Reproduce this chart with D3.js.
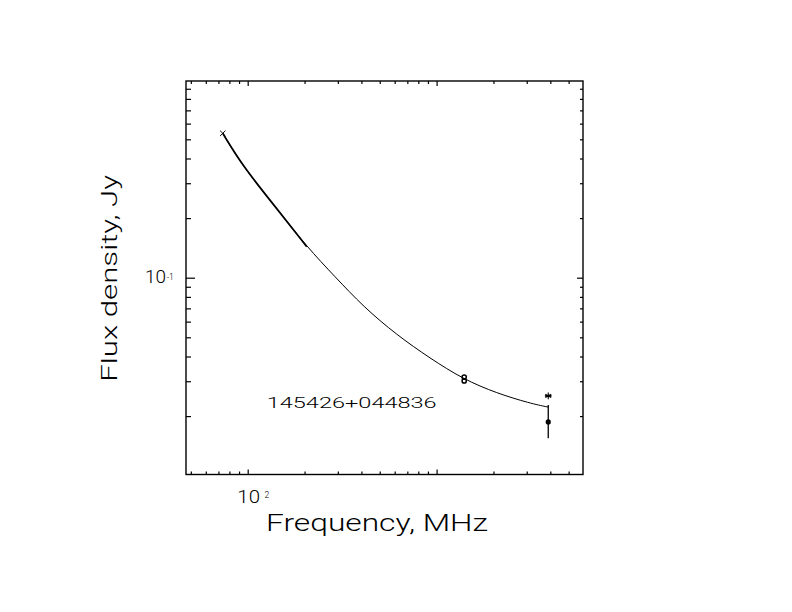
<!DOCTYPE html>
<html>
<head>
<meta charset="utf-8">
<script src="https://cdn.jsdelivr.net/npm/d3@7"></script>
<style>
  html, body { margin: 0; padding: 0; background: #fff; }
  svg { display: block; }
  text { font-family: Roboto, "DejaVu Sans", sans-serif; font-weight: 300; fill: #000; }
</style>
</head>
<body>
<svg id="chart" width="792" height="612"></svg>
<script>
// ---- data ----
const sourceName = "145426+044836";
const xTitle = "Frequency, MHz";
const yTitle = "Flux density, Jy";

const xDomain = [47.14, 5957];
const yDomain = [0.010141, 0.985];

const xMajorTicks = [100, 1000];
const xMinorTicks = [50, 60, 70, 80, 90, 200, 300, 400, 500, 600, 700, 800, 900, 2000, 3000, 4000, 5000];
const yMajorTicks = [0.1];
const yMinorTicks = [0.02, 0.03, 0.04, 0.05, 0.06, 0.07, 0.08, 0.09, 0.2, 0.3, 0.4, 0.5, 0.6, 0.7, 0.8, 0.9];
const xTickLabelBase = "10", xTickLabelExp = "2";
const yTickLabelBase = "10", yTickLabelExp = "-1";

// fitted spectrum curve
const curveFreq = [73.8, 94.8, 142.4, 205.3, 289.9, 409.3, 614.9, 922.9, 1385, 2081, 3123, 3902];
const curveFlux = [0.536, 0.362, 0.224, 0.1434, 0.1012, 0.0714, 0.0514, 0.0392, 0.0307, 0.0261, 0.0232, 0.0222];
const curveThickUpTo = 205.3;

// measured points
const crossFreq = [73.8];
const crossFlux = [0.536];
const circleFreq = [1400, 1400];
const circleFlux = [0.0315, 0.0301];
const starFreq = [3900];
const starFlux = [0.0253];
const dotFreq = [3900];
const dotFlux = [0.0187];
const dotErrLo = [0.01545];
const dotErrHi = [0.02275];

// ---- drawing ----
const svg = d3.select("#chart");
const pLeft = 186, pRight = 583, pTop = 81, pBottom = 474.5;

const x = d3.scaleLog().domain(xDomain).range([pLeft, pRight]);
const y = d3.scaleLog().domain(yDomain).range([pBottom, pTop]);

const g = svg.append("g");

// frame
g.append("rect")
  .attr("x", pLeft).attr("y", pTop)
  .attr("width", pRight - pLeft).attr("height", pBottom - pTop)
  .attr("fill", "none").attr("stroke", "#000").attr("stroke-width", 1.4);

function drawAxis(axisFn, scale, values, size, transform) {
  const a = axisFn(scale).tickValues(values).tickSizeInner(size).tickSizeOuter(0).tickFormat("");
  const sel = g.append("g").attr("transform", transform).call(a);
  sel.select(".domain").remove();
  sel.selectAll(".tick line").attr("stroke", "#000").attr("stroke-width", 1.2);
}
// bottom / top (ticks point inward)
drawAxis(d3.axisBottom, x, xMinorTicks, -3, `translate(0,${pBottom})`);
drawAxis(d3.axisBottom, x, xMajorTicks, -5, `translate(0,${pBottom})`);
drawAxis(d3.axisTop, x, xMinorTicks, -3, `translate(0,${pTop})`);
drawAxis(d3.axisTop, x, xMajorTicks, -5, `translate(0,${pTop})`);
// left / right
drawAxis(d3.axisLeft, y, yMinorTicks, -5, `translate(${pLeft},0)`);
drawAxis(d3.axisLeft, y, yMajorTicks, -9, `translate(${pLeft},0)`);
drawAxis(d3.axisRight, y, yMinorTicks, -3, `translate(${pRight},0)`);
drawAxis(d3.axisRight, y, yMajorTicks, -6, `translate(${pRight},0)`);

// tick labels
xMajorTicks.slice(0, 1).forEach(v => {
  g.append("text").attr("x", x(v) + 1).attr("y", pBottom + 28.8)
    .attr("text-anchor", "middle").attr("font-size", 17.5).attr("font-weight", 400)
    .attr("textLength", 22.7).attr("lengthAdjust", "spacingAndGlyphs")
    .text(xTickLabelBase);
  g.append("text").attr("x", x(v) + 16.8).attr("y", pBottom + 23.3)
    .attr("font-size", 8.5).attr("font-weight", 400).text(xTickLabelExp);
});
yMajorTicks.forEach(v => {
  g.append("text").attr("x", pLeft - 20).attr("y", y(v) + 5)
    .attr("text-anchor", "end").attr("font-size", 17.5).attr("font-weight", 400)
    .attr("textLength", 21).attr("lengthAdjust", "spacingAndGlyphs")
    .text(yTickLabelBase);
  g.append("text").attr("x", pLeft - 19.3).attr("y", y(v) + 1.8)
    .attr("font-size", 8.5).attr("font-weight", 400).text(yTickLabelExp);
});

// axis titles
g.append("text").attr("x", 266).attr("y", 531)
  .attr("font-size", 23).attr("textLength", 222).attr("lengthAdjust", "spacingAndGlyphs")
  .text(xTitle);
g.append("text").attr("transform", "translate(117.3,381.7) rotate(-90)")
  .attr("font-size", 22).attr("textLength", 206.7).attr("lengthAdjust", "spacingAndGlyphs")
  .text(yTitle);

// source name
g.append("text").attr("x", 266.7).attr("y", 408.3)
  .attr("font-size", 15.5).attr("textLength", 170).attr("lengthAdjust", "spacingAndGlyphs")
  .text(sourceName);

// curve
const curvePts = curveFreq.map((f, i) => ({ f, s: curveFlux[i] }));
const line = d3.line().x(d => x(d.f)).y(d => y(d.s)).curve(d3.curveBasis);
g.append("path").datum(curvePts).attr("d", line)
  .attr("fill", "none").attr("stroke", "#000").attr("stroke-width", 1);
g.append("path").datum(curvePts.filter(d => d.f <= curveThickUpTo)).attr("d", line)
  .attr("fill", "none").attr("stroke", "#000").attr("stroke-width", 1.7);

// cross markers
crossFreq.forEach((f, i) => {
  const cx = x(f), cy = y(crossFlux[i]), r = 2.7;
  g.append("path").attr("d", `M${cx - r},${cy - r}L${cx + r},${cy + r}M${cx - r},${cy + r}L${cx + r},${cy - r}`)
    .attr("stroke", "#000").attr("stroke-width", 1);
});
// open circles
circleFreq.forEach((f, i) => {
  g.append("circle").attr("cx", x(f)).attr("cy", y(circleFlux[i])).attr("r", 2.1)
    .attr("fill", "none").attr("stroke", "#000").attr("stroke-width", 1.5);
});
// star markers
starFreq.forEach((f, i) => {
  const cx = x(f), cy = y(starFlux[i]), r = 3.4;
  let d = "";
  for (let k = 0; k < 3; k++) {
    const a = Math.PI / 2 + k * Math.PI / 3;
    d += `M${cx - r * Math.cos(a)},${cy - r * Math.sin(a)}L${cx + r * Math.cos(a)},${cy + r * Math.sin(a)}`;
  }
  d += `M${cx - r},${cy}L${cx + r},${cy}`;
  g.append("path").attr("d", d).attr("stroke", "#000").attr("stroke-width", 1.1);
});
// filled dot with error bar
dotFreq.forEach((f, i) => {
  g.append("line").attr("x1", x(f)).attr("x2", x(f))
    .attr("y1", y(dotErrHi[i])).attr("y2", y(dotErrLo[i]))
    .attr("stroke", "#000").attr("stroke-width", 1.3);
  g.append("circle").attr("cx", x(f)).attr("cy", y(dotFlux[i])).attr("r", 2.6).attr("fill", "#000");
});
</script>
</body>
</html>
